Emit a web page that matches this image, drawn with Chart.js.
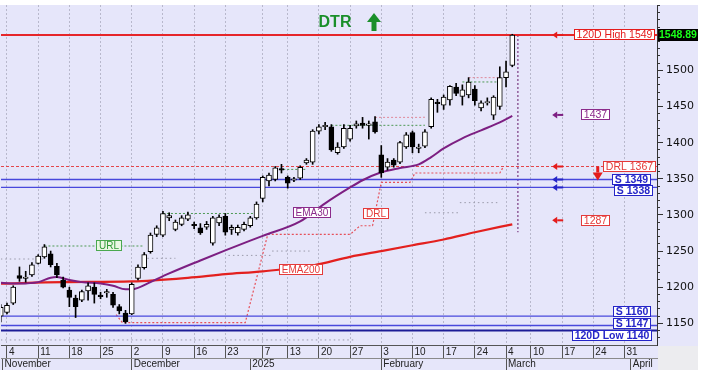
<!DOCTYPE html>
<html lang="en">
<head>
    <meta charset="UTF-8">
    <title>DTR</title>
    <script src="https://cdn.jsdelivr.net/npm/chart.js"></script>
    <style>
        html, body { margin: 0; padding: 0; background: #ffffff; }
        #dtrChart { display: block; }
    </style>
</head>
<body>
    <canvas id="dtrChart" width="705" height="377"></canvas>
    <script>
        // one slot per trading day: slot 0 = 1 Nov 2024 ... slot 82 = last bar
        const opens = [1160,1165,1178,1216,1212,1217,1233,1242,1246,1229,
            1210,1196,1185,1182,1195,1200,1189,1192,1190,1173,
            1164,1163,1212,1227,1249,1273,1272,1296,1280,1287,
            1294,1287,1282,1283,1261,1289,1298,1280,1275,1280,
            1285,1296,1323,1347,1349,1364,1352,1348,1351,1372,
            1373,1416,1422,1422,1386,1394,1405,1423,1427,1424,
            1429,1383,1366,1376,1373,1394,1414,1392,1395,1422,
            1456,1452,1459,1477,1464,1466,1474,1448,1455,1438,
            1450,1490,1507];
        const highs = [1176,1178,1202,1228,1222,1234,1245,1259,1250,1233,
            1214,1200,1189,1196,1206,1206,1193,1197,1193,1176,
            1168,1206,1231,1248,1275,1285,1305,1303,1293,1299,
            1304,1290,1288,1291,1298,1300,1302,1286,1286,1290,
            1298,1318,1354,1358,1367,1370,1354,1352,1368,1378,
            1418,1425,1428,1425,1400,1425,1424,1430,1435,1430,
            1436,1396,1378,1378,1402,1414,1416,1398,1418,1462,
            1460,1466,1479,1482,1480,1490,1479,1458,1462,1465,
            1505,1513,1550];
        const lows = [1152,1163,1176,1208,1207,1215,1232,1240,1228,1213,
            1199,1173,1158,1180,1182,1178,1184,1186,1172,1163,
            1150,1162,1210,1225,1247,1270,1270,1292,1278,1285,
            1292,1281,1273,1280,1258,1285,1272,1273,1272,1278,
            1283,1294,1318,1340,1347,1358,1337,1346,1349,1370,
            1370,1412,1418,1388,1384,1392,1402,1420,1420,1405,
            1413,1352,1362,1366,1371,1392,1386,1386,1393,1420,
            1442,1446,1452,1465,1452,1462,1452,1444,1452,1432,
            1446,1477,1505];
        const closes = [1172,1175,1200,1212,1214,1231,1243,1256,1231,1217,
            1200,1186,1173,1194,1202,1190,1187,1194,1175,1167,
            1152,1204,1228,1245,1272,1282,1302,1299,1290,1296,
            1300,1285,1275,1287,1296,1297,1276,1283,1283,1287,
            1296,1315,1352,1355,1365,1362,1344,1350,1366,1376,
            1416,1422,1424,1390,1394,1420,1420,1426,1424,1426,
            1415,1358,1373,1369,1400,1411,1394,1394,1415,1460,
            1454,1463,1478,1468,1473,1484,1458,1455,1457,1463,
            1490,1498,1549];
        const lastClose = 1548.89;

        // moving averages, read at a few slots
        const ema30Slots = [0,3,6,8,9,11,13,16,18,20,21,22,24,27,32,36,42,48,52,56,58,61,64,67,69,71,74,77,80,82];
        const ema30Values = [1206,1205,1207,1213,1214,1210,1207,1205,1202,1197,1197,1199,1207,1219,1237,1251,1271,1291,1316,1338,1348,1359,1365,1370,1380,1392,1406,1417,1428,1437];
        const ema200Slots = [0,10,21,30,36,42,50,56,61,66,71,76,82];
        const ema200Values = [1205,1207,1208,1213,1218,1222,1230,1242,1250,1258,1266,1276,1287];

        // DRL step line
        const drlSlots = [18.5,19.5,39.2,42.8,56,57.6,59.6,61,65.6,66.4,80,80.6];
        const drlValues = [1162,1151,1151,1273,1273,1285,1285,1345,1345,1358,1358,1367];

        // dotted guide segments
        const greenGuideSlots = [[7,23],[26,41],[44,49],[53,68],[74,79.7]];
        const greenGuideValues = [1257,1302,1363,1424,1484];
        const pinkGuideSlots = [[60,68],[75,80]];
        const pinkGuideValues = [1435,1490];
        const grayGuideSlots = [[0,7],[23.5,28],[36.5,43.5],[43.5,49.5],[68,73.6],[73.6,79.6],[0,57]];
        const grayGuideValues = [1239,1240,1244,1250,1303,1317,1127];
        const todaySlot = 82.9;
        const todayRange = [1549, 1276];

        // horizontal levels
        const levelNames = ['120D High 1549','DRL 1367','S 1349','S 1338','S 1160','S 1147','120D Low 1140'];
        const levelValues = [1549,1367,1349,1338,1160,1147,1140];

        // axis ticks
        const dayTickSlots = [1,6,11,16,21,26,31,36,42,46,51,56,61,66,71,76,81,85,90,95,100];
        const dayTickLabels = ['4','11','18','25','2','9','16','23','7','13','20','27','3','10','17','24','4','10','17','24','31'];
        const monthTickSlots = [0.3,21,40,61,81,101];
        const monthTickLabels = ['November','December','2025','February','March','April'];
        const priceTicks = [1150,1200,1250,1300,1350,1400,1450,1500];

        const X_MIN = 0.04, X_MAX = 105.2, Y_MIN = 1120, Y_MAX = 1590.5;

        const pts = (xs, ys) => xs.map((x, i) => ({ x: x, y: ys[i] }));
        const minorTicks = [];
        for (let v = 1130; v <= 1590; v += 10) minorTicks.push({ value: v });

        const datasets = [];
        datasets.push({
            type: 'bar', order: 0, grouped: false, barThickness: 5,
            data: opens.map((o, i) => ({ x: i, y: [o, closes[i]] })),
            backgroundColor: opens.map((o, i) => closes[i] >= o ? '#ffffff' : '#000000'),
            borderColor: '#000000', borderWidth: 1, borderSkipped: false
        });
        datasets.push({
            type: 'bar', order: 1, grouped: false, barThickness: 1,
            data: lows.map((l, i) => ({ x: i, y: [l, highs[i]] })),
            backgroundColor: '#000000', borderWidth: 0
        });
        datasets.push({ type: 'line', order: 2, data: pts(ema30Slots, ema30Values), borderColor: '#7d1f82', borderWidth: 2, pointRadius: 0, cubicInterpolationMode: 'monotone' });
        datasets.push({ type: 'line', order: 2, data: pts(ema200Slots, ema200Values), borderColor: '#e3201e', borderWidth: 2.2, pointRadius: 0, cubicInterpolationMode: 'monotone' });
        datasets.push({ type: 'line', order: 4, data: pts(drlSlots, drlValues), borderColor: '#e6505a', borderWidth: 1.2, borderDash: [2, 2], pointRadius: 0 });
        datasets.push({ type: 'line', order: 4, data: [{ x: todaySlot, y: todayRange[0] }, { x: todaySlot, y: todayRange[1] }], borderColor: '#7a3a80', borderWidth: 1.2, borderDash: [2, 2], pointRadius: 0 });

        greenGuideSlots.forEach((s, i) => datasets.push({ type: 'line', order: 5, data: pts(s, [greenGuideValues[i], greenGuideValues[i]]), borderColor: '#4e9a55', borderWidth: 1, borderDash: [2, 2], pointRadius: 0 }));
        pinkGuideSlots.forEach((s, i) => datasets.push({ type: 'line', order: 5, data: pts(s, [pinkGuideValues[i], pinkGuideValues[i]]), borderColor: '#e08a9a', borderWidth: 1, borderDash: [2, 2], pointRadius: 0 }));
        grayGuideSlots.forEach((s, i) => datasets.push({ type: 'line', order: 5, data: pts(s, [grayGuideValues[i], grayGuideValues[i]]), borderColor: '#9a9aaa', borderWidth: 1, borderDash: [1.5, 3], pointRadius: 0 }));

        const levelStyle = [
            { color: '#e6262a', width: 2, dash: [] },
            { color: '#e4464a', width: 1, dash: [3, 2] },
            { color: '#4848dc', width: 1.3, dash: [] },
            { color: '#4848dc', width: 1.3, dash: [] },
            { color: '#4848dc', width: 1.3, dash: [] },
            { color: '#4848dc', width: 1.3, dash: [] },
            { color: '#1c1c96', width: 2, dash: [] }
        ];
        levelValues.forEach((v, i) => datasets.push({
            type: 'line', order: 3, data: [{ x: X_MIN, y: v }, { x: X_MAX, y: v }],
            borderColor: levelStyle[i].color, borderWidth: levelStyle[i].width, borderDash: levelStyle[i].dash, pointRadius: 0
        }));

        function boxLabel(ctx, text, x, y, opt) {
            ctx.font = opt.font || '10px Arial';
            const w = Math.ceil(ctx.measureText(text).width) + 5;
            const h = 11;
            const L = Math.round(opt.align === 'right' ? x - w : x - w / 2);
            const T = Math.round(y - h / 2);
            ctx.fillStyle = opt.fill || '#ffffff';
            ctx.fillRect(L, T, w, h);
            ctx.strokeStyle = opt.border || opt.color;
            ctx.lineWidth = 1;
            ctx.setLineDash([]);
            ctx.strokeRect(L + 0.5, T + 0.5, w - 1, h - 1);
            ctx.fillStyle = opt.color;
            ctx.textAlign = 'center';
            ctx.textBaseline = 'middle';
            ctx.fillText(text, L + w / 2, T + h / 2 + 0.5);
        }

        function leftArrow(ctx, x, y, color) {
            ctx.fillStyle = color;
            ctx.beginPath();
            ctx.moveTo(x, y);
            ctx.lineTo(x + 5, y - 3.5);
            ctx.lineTo(x + 5, y + 3.5);
            ctx.closePath();
            ctx.fill();
            ctx.fillRect(x + 5, y - 1, 6, 2);
        }

        const overlay = {
            id: 'overlay',
            beforeDraw(chart) {
                const c = chart.ctx, a = chart.chartArea;
                c.save();
                c.fillStyle = '#ffffff';
                c.fillRect(0, 0, chart.width, chart.height);
                c.fillStyle = '#e6e6fa';
                c.fillRect(0, 5, 698, 365);
                c.fillStyle = '#ececef';
                c.fillRect(a.right + 1, a.bottom + 1, 698 - a.right - 1, 370 - a.bottom - 1);
                c.restore();
            },
            afterDraw(chart) {
                const c = chart.ctx, a = chart.chartArea;
                const xs = chart.scales.x, ys = chart.scales.y;
                const py = v => ys.getPixelForValue(v);
                c.save();

                // right side level labels
                const lab = [
                    { color: '#e41c1c', inset: 2, dy: 0, font: '10.5px Arial' },
                    { color: '#e43a3a', inset: 1, dy: 0, font: '10.5px Arial' },
                    { color: '#2525c8', inset: 6, dy: 0, font: 'bold 10.5px Arial' },
                    { color: '#2525c8', inset: 4, dy: 3, font: 'bold 10.5px Arial' },
                    { color: '#2525c8', inset: 6, dy: -5, font: 'bold 10.5px Arial' },
                    { color: '#2525c8', inset: 6, dy: -2, font: 'bold 10.5px Arial' },
                    { color: '#2525c8', inset: 5, dy: 5, font: 'bold 10.5px Arial' }
                ];
                levelValues.forEach((v, i) => {
                    boxLabel(c, levelNames[i], a.right - lab[i].inset, py(v) + lab[i].dy, { color: lab[i].color, align: 'right', font: lab[i].font });
                });

                // arrows pointing at the levels
                const ax = xs.getPixelForValue(88.4);
                leftArrow(c, ax, py(1549), '#e41c1c');
                leftArrow(c, ax, py(ema30Values[ema30Values.length - 1]) - 1, '#7d1f82');
                leftArrow(c, ax, py(1367), '#e41c1c');
                leftArrow(c, ax, py(1349), '#2525c8');
                leftArrow(c, ax, py(1338), '#2525c8');
                leftArrow(c, ax, py(ema200Values[ema200Values.length - 1]) - 4, '#e41c1c');

                const vx = xs.getPixelForValue(95.3);
                boxLabel(c, String(ema30Values[ema30Values.length - 1]), vx, py(ema30Values[ema30Values.length - 1]) - 1, { color: '#8b2b8b', font: '10.5px Arial' });
                boxLabel(c, String(ema200Values[ema200Values.length - 1]), vx, py(ema200Values[ema200Values.length - 1]) - 4, { color: '#e43a3a', font: '10.5px Arial' });

                // red down arrow next to DRL
                const dx = xs.getPixelForValue(95.7), dy = py(1367);
                c.fillStyle = '#e41c1c';
                c.fillRect(dx - 1.5, dy, 3, 6);
                c.beginPath();
                c.moveTo(dx - 5, dy + 6);
                c.lineTo(dx + 5, dy + 6);
                c.lineTo(dx, dy + 14);
                c.closePath();
                c.fill();

                // in-plot labels
                boxLabel(c, 'URL', xs.getPixelForValue(17.3), py(1257), { color: '#2f9a36', border: '#4aa84f', fill: '#eaf7e4' });
                boxLabel(c, 'EMA30', xs.getPixelForValue(49.9), py(1304), { color: '#8b2b8b' });
                boxLabel(c, 'DRL', xs.getPixelForValue(60.2), py(1302), { color: '#e43a3a' });
                boxLabel(c, 'EMA200', xs.getPixelForValue(48.1), py(1224), { color: '#e43a3a' });

                // title
                c.font = 'bold 16px Arial';
                c.fillStyle = '#1a8f2a';
                c.textAlign = 'center';
                c.textBaseline = 'alphabetic';
                c.fillText('DTR', 335, 27);
                c.beginPath();
                c.moveTo(374, 13);
                c.lineTo(381, 22);
                c.lineTo(367, 22);
                c.closePath();
                c.fill();
                c.fillRect(371.5, 21, 5, 10);

                // last price on the axis
                const lp = py(lastClose);
                c.fillStyle = '#000000';
                c.fillRect(a.right + 1, Math.round(lp - 6), 698 - a.right - 1, 12);
                c.fillStyle = '#19ff19';
                c.font = 'bold 10.5px Arial';
                c.textAlign = 'left';
                c.textBaseline = 'middle';
                c.fillText(lastClose.toFixed(2), a.right + 2, lp + 0.5);
                c.restore();
            }
        };

        const tickFont = { family: 'Arial', size: 10 };
        new Chart(document.getElementById('dtrChart').getContext('2d'), {
            type: 'bar',
            data: { datasets: datasets },
            plugins: [overlay],
            options: {
                responsive: false,
                devicePixelRatio: 1,
                animation: false,
                events: [],
                layout: { padding: { left: 1, top: 5, right: 0, bottom: 7 } },
                plugins: { legend: { display: false }, tooltip: { enabled: false } },
                scales: {
                    x: {
                        type: 'linear', position: 'bottom', min: X_MIN, max: X_MAX, bounds: 'data', offset: false, weight: 0,
                        afterBuildTicks: s => { s.ticks = dayTickSlots.map(v => ({ value: v })); },
                        afterFit: s => { s.height = 13; s.paddingLeft = 0; s.paddingRight = 0; },
                        grid: { offset: false, color: '#b8b8cc', tickLength: 13, tickColor: '#555555' },
                        border: { color: '#555555', dash: [2, 2] },
                        ticks: { autoSkip: false, maxRotation: 0, minRotation: 0, align: 'start', labelOffset: 2, padding: -12, color: '#222222', font: tickFont, callback: (v, i) => dayTickLabels[i] }
                    },
                    x2: {
                        type: 'linear', position: 'bottom', min: X_MIN, max: X_MAX, bounds: 'data', offset: false, weight: 1,
                        afterBuildTicks: s => { s.ticks = monthTickSlots.map(v => ({ value: v })); },
                        afterFit: s => { s.height = 12; s.paddingLeft = 0; s.paddingRight = 0; },
                        grid: { offset: false, drawOnChartArea: false, tickLength: 12, color: '#555555', tickColor: '#555555' },
                        border: { color: '#8a8a8a' },
                        ticks: { autoSkip: false, maxRotation: 0, minRotation: 0, align: 'start', labelOffset: 2, padding: -12, color: '#222222', font: tickFont, callback: (v, i) => monthTickLabels[i] }
                    },
                    yMinor: {
                        type: 'linear', position: 'right', min: Y_MIN, max: Y_MAX, bounds: 'data', weight: 0,
                        afterBuildTicks: s => { s.ticks = minorTicks.slice(); },
                        afterFit: s => { s.width = 0; s.paddingTop = 0; s.paddingBottom = 0; },
                        grid: { drawOnChartArea: false, tickLength: 3, color: '#333333', tickColor: '#333333' },
                        border: { display: false },
                        ticks: { display: false }
                    },
                    y: {
                        type: 'linear', position: 'right', min: Y_MIN, max: Y_MAX, bounds: 'data', beginAtZero: false, weight: 1,
                        afterBuildTicks: s => { s.ticks = priceTicks.map(v => ({ value: v })); },
                        afterFit: s => { s.width = 48; s.paddingTop = 0; s.paddingBottom = 0; },
                        grid: { drawOnChartArea: false, tickLength: 6, color: '#333333', tickColor: '#333333' },
                        border: { color: '#333333' },
                        ticks: { padding: 3, color: '#111111', font: { family: 'DejaVu Sans', size: 11 }, callback: v => String(v) }
                    }
                }
            }
        });
    </script>
</body>
</html>
